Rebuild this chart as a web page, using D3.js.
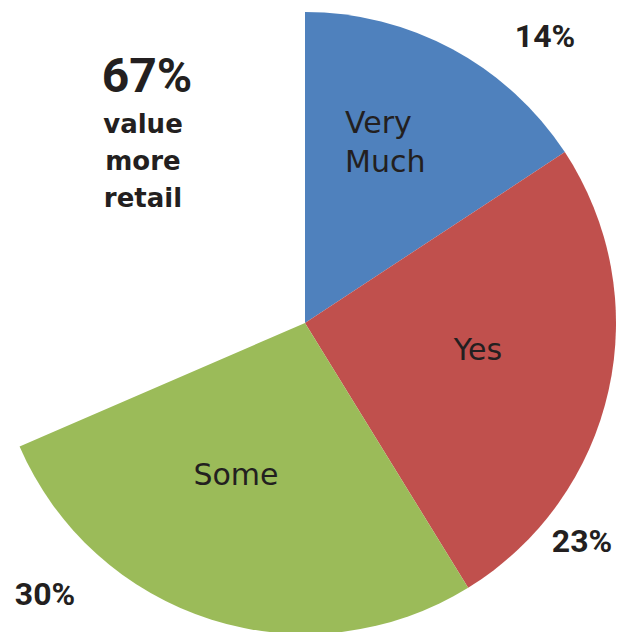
<!DOCTYPE html>
<html>
<head>
<meta charset="utf-8">
<script src="https://cdn.jsdelivr.net/npm/d3@7"></script>
<style>
  body { margin: 0; background: #fff; }
  svg { display: block; }
</style>
</head>
<body>
<div id="chart"></div>
<script>
var categories = ['Very Much', 'Yes', 'Some', '']
var percentLabels = ['14%', '23%', '30%', '']
var sliceValues = [15.74, 25.47, 27.29, 31.5]
var colors = ['#4F81BD', '#C0504D', '#9BBB59', 'none']

var headline = ['67%', 'value', 'more', 'retail']

var width = 619, height = 632
var cx = 305, cy = 323, radius = 311
var ink = '#231F20'

var svg = d3.select('#chart').append('svg')
  .attr('width', width)
  .attr('height', height)

var g = svg.append('g').attr('transform', `translate(${cx},${cy})`)

var pie = d3.pie().sort(null).value(d => d.value)
var arc = d3.arc().innerRadius(0).outerRadius(radius)

var slices = pie(categories.map((c, i) => ({name: c, value: sliceValues[i], pct: percentLabels[i], color: colors[i]})))

g.selectAll('path.slice')
  .data(slices.filter(d => d.data.name))
  .join('path')
  .attr('class', 'slice')
  .attr('d', arc)
  .attr('fill', d => d.data.color)

// label placement, relative to the pie centre
var innerPos = [[40, -190, 'start'], [173, 37, 'middle'], [-69, 162, 'middle']]
var outerPos = [[240, -276], [277, 229], [-260, 282]]

slices.filter(d => d.data.name).forEach((d, i) => {
  var lines = d.data.name.split(' ')
  var p = innerPos[i]
  var t = g.append('text')
    .attr('x', p[0])
    .attr('y', p[1])
    .attr('text-anchor', p[2])
    .style('font-family', 'DejaVu Sans, sans-serif')
    .style('font-size', '30px')
    .style('fill', ink)
  lines.forEach((l, j) => {
    t.append('tspan').attr('x', p[0]).attr('dy', j ? 39 : 0).text(l)
  })

  g.append('text')
    .attr('x', outerPos[i][0])
    .attr('y', outerPos[i][1])
    .attr('text-anchor', 'middle')
    .style('font-family', 'Roboto, sans-serif')
    .style('font-weight', 'bold')
    .style('font-size', '32px')
    .style('fill', ink)
    .text(d.data.pct)
})

// headline block at top left
svg.append('text')
  .attr('x', 147)
  .attr('y', 92)
  .attr('text-anchor', 'middle')
  .style('font-family', 'Roboto, sans-serif')
  .style('font-weight', 'bold')
  .style('font-size', '48px')
  .style('fill', ink)
  .text(headline[0])

svg.selectAll('text.sub')
  .data(headline.slice(1))
  .join('text')
  .attr('class', 'sub')
  .attr('x', 143)
  .attr('y', (d, i) => 133 + i * 37)
  .attr('text-anchor', 'middle')
  .style('font-family', 'DejaVu Sans, sans-serif')
  .style('font-weight', 'bold')
  .style('font-size', '26px')
  .style('fill', ink)
  .text(d => d)
</script>
</body>
</html>
